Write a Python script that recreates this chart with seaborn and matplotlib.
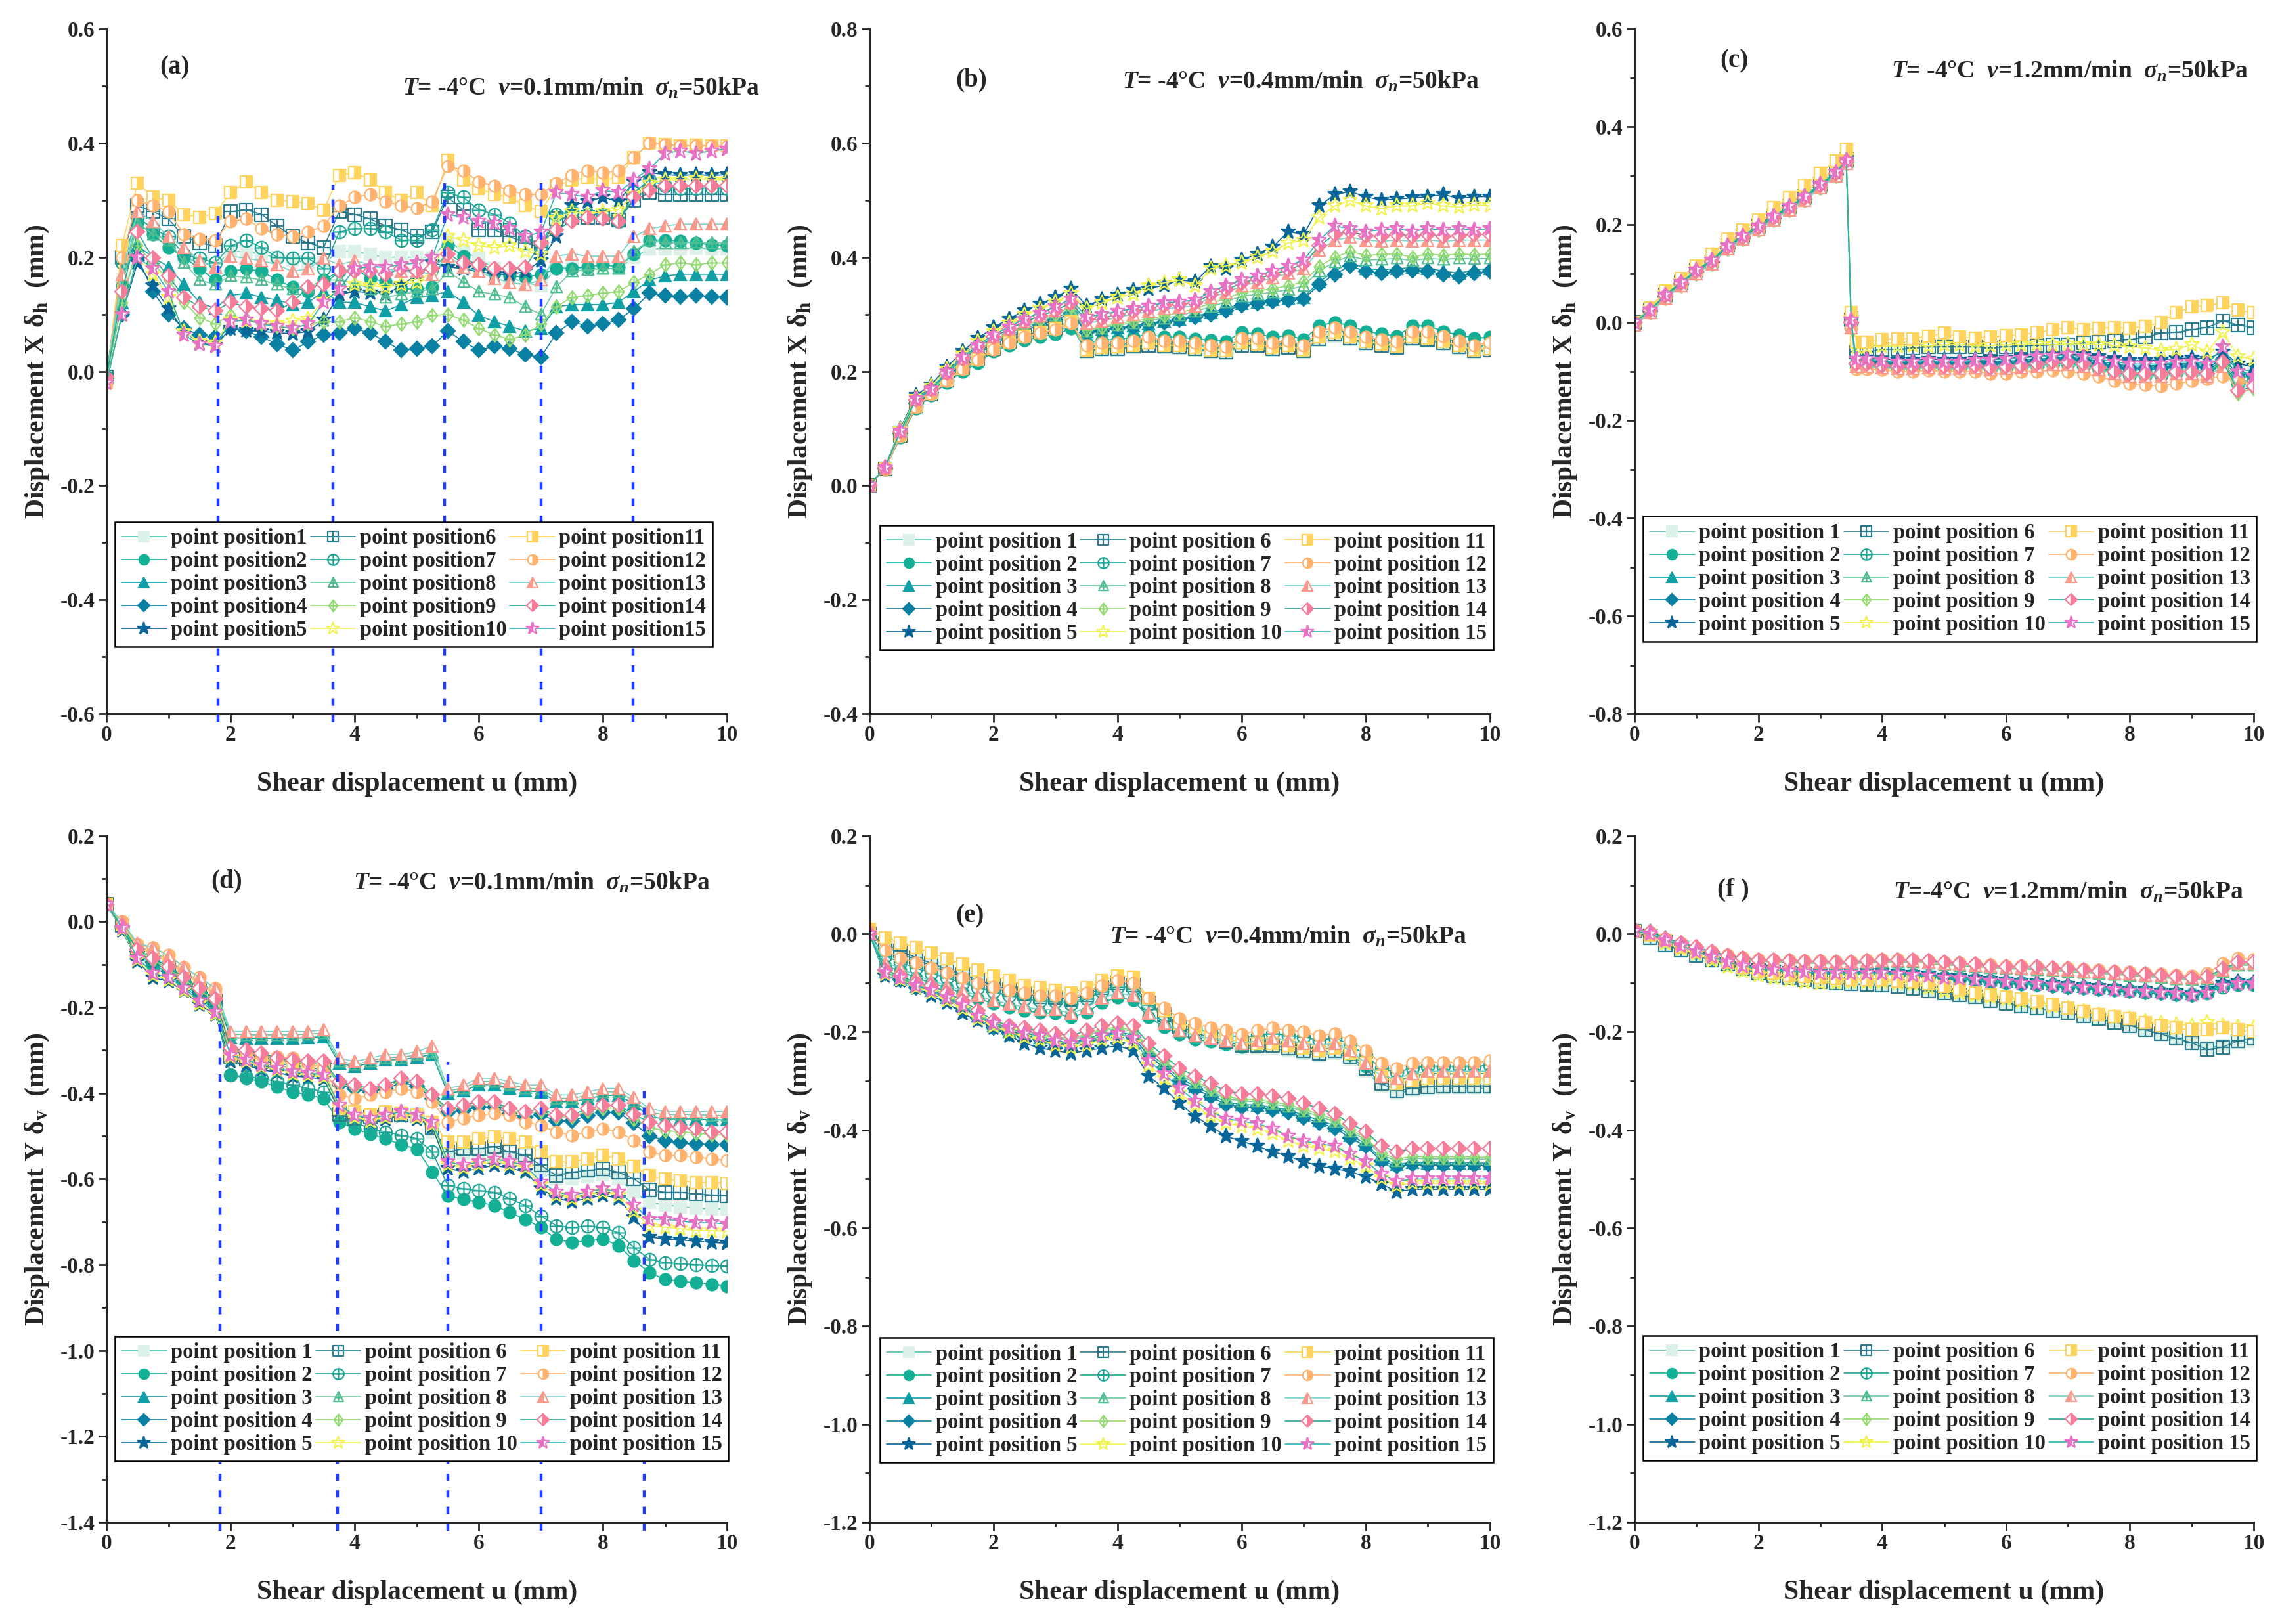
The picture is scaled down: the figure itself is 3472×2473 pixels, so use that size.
import matplotlib
matplotlib.use("Agg")
import matplotlib.pyplot as plt
from matplotlib.path import Path
from matplotlib.ticker import MultipleLocator
import seaborn as sns

# shear displacement sampling (mm)
U = [0, 0.25, 0.5, 0.75, 1, 1.25, 1.5, 1.75, 2, 2.25, 2.5, 2.75, 3, 3.25, 3.5, 3.75, 4, 4.25, 4.5, 4.75,
     5, 5.25, 5.5, 5.75, 6, 6.25, 6.5, 6.75, 7, 7.25, 7.5, 7.75, 8, 8.25, 8.5, 8.75, 9, 9.25, 9.5, 9.75, 10]
U_C = [0, 0.25, 0.5, 0.75, 1, 1.25, 1.5, 1.75, 2, 2.25, 2.5, 2.75, 3, 3.25, 3.42, 3.5, 3.58, 3.75, 4, 4.25,
       4.5, 4.75, 5, 5.25, 5.5, 5.75, 6, 6.25, 6.5, 6.75, 7, 7.25, 7.5, 7.75, 8, 8.25, 8.5, 8.75, 9, 9.25,
       9.5, 9.75, 10]

# (a) displacement X, v = 0.1 mm/min  (point position 1..15)
a_pp = [
    [-0.01, 0.16, 0.27, 0.25, 0.22, 0.20, 0.19, 0.185, 0.21, 0.21, 0.205, 0.20, 0.195, 0.19, 0.19, 0.21, 0.21, 0.205, 0.2, 0.2, 0.2, 0.2, 0.23, 0.21, 0.198, 0.18, 0.165, 0.155, 0.15, 0.18, 0.185, 0.18, 0.18, 0.18, 0.2, 0.215, 0.215, 0.215, 0.216, 0.215, 0.215],
    [-0.01, 0.15, 0.26, 0.24, 0.217, 0.2, 0.18, 0.16, 0.175, 0.18, 0.175, 0.16, 0.148, 0.14, 0.16, 0.175, 0.18, 0.163, 0.157, 0.145, 0.144, 0.148, 0.22, 0.202, 0.183, 0.172, 0.167, 0.165, 0.17, 0.18, 0.18, 0.183, 0.187, 0.183, 0.206, 0.23, 0.23, 0.228, 0.225, 0.222, 0.22],
    [-0.01, 0.12, 0.22, 0.2, 0.183, 0.152, 0.121, 0.11, 0.133, 0.137, 0.13, 0.125, 0.117, 0.121, 0.14, 0.121, 0.121, 0.113, 0.106, 0.117, 0.13, 0.133, 0.14, 0.121, 0.098, 0.087, 0.079, 0.071, 0.075, 0.113, 0.117, 0.117, 0.117, 0.121, 0.14, 0.16, 0.167, 0.17, 0.17, 0.17, 0.17],
    [-0.02, 0.1, 0.2, 0.14, 0.1, 0.075, 0.064, 0.06, 0.075, 0.071, 0.06, 0.048, 0.037, 0.052, 0.064, 0.067, 0.075, 0.067, 0.052, 0.037, 0.04, 0.044, 0.071, 0.052, 0.037, 0.044, 0.04, 0.029, 0.025, 0.067, 0.087, 0.079, 0.083, 0.09, 0.11, 0.137, 0.133, 0.131, 0.133, 0.131, 0.129],
    [-0.02, 0.1, 0.19, 0.15, 0.11, 0.07, 0.05, 0.045, 0.075, 0.072, 0.07, 0.068, 0.066, 0.07, 0.09, 0.135, 0.14, 0.138, 0.135, 0.15, 0.17, 0.19, 0.183, 0.18, 0.175, 0.17, 0.17, 0.175, 0.194, 0.236, 0.29, 0.298, 0.305, 0.298, 0.332, 0.348, 0.345, 0.343, 0.345, 0.343, 0.345],
    [-0.01, 0.2, 0.29, 0.28, 0.267, 0.236, 0.225, 0.22, 0.28, 0.283, 0.275, 0.255, 0.236, 0.225, 0.217, 0.28, 0.275, 0.267, 0.255, 0.248, 0.236, 0.244, 0.305, 0.283, 0.248, 0.248, 0.236, 0.225, 0.217, 0.267, 0.27, 0.27, 0.27, 0.265, 0.3, 0.313, 0.31, 0.31, 0.31, 0.31, 0.31],
    [-0.01, 0.19, 0.27, 0.25, 0.236, 0.205, 0.198, 0.19, 0.22, 0.23, 0.217, 0.2, 0.198, 0.198, 0.18, 0.244, 0.25, 0.25, 0.244, 0.23, 0.23, 0.248, 0.313, 0.305, 0.283, 0.275, 0.26, 0.236, 0.22, 0.275, 0.28, 0.275, 0.275, 0.263, 0.313, 0.336, 0.325, 0.32, 0.32, 0.322, 0.32],
    [-0.01, 0.15, 0.26, 0.24, 0.23, 0.19, 0.16, 0.152, 0.167, 0.165, 0.16, 0.152, 0.144, 0.148, 0.16, 0.16, 0.155, 0.145, 0.13, 0.135, 0.14, 0.144, 0.175, 0.157, 0.14, 0.135, 0.13, 0.113, 0.1, 0.148, 0.175, 0.178, 0.18, 0.18, 0.21, 0.23, 0.225, 0.225, 0.226, 0.225, 0.225],
    [-0.01, 0.12, 0.22, 0.19, 0.16, 0.121, 0.094, 0.083, 0.098, 0.092, 0.083, 0.079, 0.075, 0.083, 0.087, 0.087, 0.094, 0.087, 0.079, 0.083, 0.087, 0.098, 0.1, 0.09, 0.075, 0.064, 0.056, 0.064, 0.083, 0.113, 0.13, 0.133, 0.137, 0.14, 0.156, 0.17, 0.187, 0.19, 0.187, 0.19, 0.19],
    [-0.02, 0.1, 0.2, 0.17, 0.13, 0.07, 0.052, 0.05, 0.09, 0.088, 0.085, 0.083, 0.088, 0.092, 0.125, 0.144, 0.152, 0.15, 0.148, 0.152, 0.156, 0.175, 0.236, 0.23, 0.22, 0.217, 0.22, 0.21, 0.206, 0.267, 0.28, 0.275, 0.28, 0.283, 0.31, 0.33, 0.335, 0.335, 0.338, 0.336, 0.336],
    [-0.02, 0.22, 0.33, 0.305, 0.30, 0.275, 0.27, 0.277, 0.313, 0.332, 0.313, 0.30, 0.298, 0.294, 0.283, 0.344, 0.348, 0.336, 0.313, 0.30, 0.313, 0.29, 0.37, 0.336, 0.32, 0.31, 0.305, 0.29, 0.28, 0.325, 0.335, 0.34, 0.335, 0.34, 0.375, 0.40, 0.397, 0.395, 0.396, 0.395, 0.395],
    [-0.02, 0.2, 0.30, 0.29, 0.28, 0.24, 0.232, 0.23, 0.263, 0.267, 0.25, 0.24, 0.236, 0.244, 0.255, 0.29, 0.305, 0.31, 0.298, 0.29, 0.286, 0.298, 0.36, 0.352, 0.332, 0.325, 0.317, 0.31, 0.31, 0.33, 0.344, 0.352, 0.348, 0.352, 0.375, 0.40, 0.398, 0.395, 0.395, 0.395, 0.394],
    [-0.01, 0.17, 0.28, 0.263, 0.236, 0.217, 0.194, 0.183, 0.202, 0.198, 0.194, 0.187, 0.175, 0.18, 0.198, 0.187, 0.194, 0.187, 0.18, 0.175, 0.175, 0.17, 0.202, 0.183, 0.175, 0.163, 0.156, 0.152, 0.16, 0.202, 0.206, 0.202, 0.202, 0.202, 0.236, 0.25, 0.255, 0.258, 0.258, 0.258, 0.258],
    [-0.01, 0.14, 0.244, 0.198, 0.167, 0.13, 0.113, 0.106, 0.121, 0.113, 0.11, 0.106, 0.121, 0.148, 0.152, 0.175, 0.175, 0.175, 0.17, 0.18, 0.175, 0.18, 0.206, 0.19, 0.187, 0.18, 0.18, 0.183, 0.225, 0.248, 0.263, 0.27, 0.267, 0.263, 0.305, 0.317, 0.325, 0.325, 0.325, 0.325, 0.325],
    [-0.02, 0.1, 0.2, 0.18, 0.14, 0.064, 0.048, 0.044, 0.087, 0.09, 0.083, 0.079, 0.075, 0.083, 0.121, 0.144, 0.18, 0.183, 0.183, 0.187, 0.19, 0.2, 0.275, 0.27, 0.263, 0.26, 0.25, 0.236, 0.244, 0.313, 0.31, 0.305, 0.317, 0.313, 0.336, 0.355, 0.382, 0.386, 0.382, 0.386, 0.39],
]

# (b) displacement X, v = 0.4 mm/min
b_pp = [
    [0, 0.028, 0.086, 0.136, 0.159, 0.182, 0.202, 0.218, 0.237, 0.248, 0.258, 0.264, 0.27, 0.28, 0.234, 0.238, 0.238, 0.242, 0.244, 0.242, 0.241, 0.238, 0.234, 0.232, 0.244, 0.243, 0.238, 0.24, 0.234, 0.255, 0.262, 0.256, 0.248, 0.244, 0.24, 0.256, 0.254, 0.248, 0.241, 0.234, 0.236],
    [0, 0.028, 0.085, 0.135, 0.158, 0.18, 0.20, 0.215, 0.235, 0.245, 0.255, 0.26, 0.265, 0.275, 0.25, 0.255, 0.256, 0.26, 0.265, 0.26, 0.26, 0.257, 0.255, 0.253, 0.268, 0.266, 0.26, 0.263, 0.256, 0.28, 0.286, 0.28, 0.27, 0.266, 0.262, 0.28, 0.28, 0.27, 0.264, 0.258, 0.26],
    [0, 0.03, 0.092, 0.145, 0.164, 0.191, 0.214, 0.233, 0.25, 0.263, 0.275, 0.284, 0.293, 0.306, 0.27, 0.273, 0.277, 0.28, 0.284, 0.288, 0.292, 0.297, 0.303, 0.31, 0.319, 0.322, 0.326, 0.328, 0.33, 0.357, 0.376, 0.391, 0.38, 0.378, 0.38, 0.382, 0.38, 0.376, 0.372, 0.378, 0.38],
    [0, 0.03, 0.091, 0.144, 0.163, 0.19, 0.212, 0.231, 0.247, 0.26, 0.272, 0.281, 0.29, 0.302, 0.268, 0.271, 0.275, 0.278, 0.282, 0.286, 0.29, 0.295, 0.3, 0.307, 0.316, 0.319, 0.323, 0.325, 0.327, 0.352, 0.37, 0.385, 0.375, 0.372, 0.375, 0.377, 0.375, 0.37, 0.366, 0.372, 0.375],
    [0, 0.032, 0.10, 0.158, 0.177, 0.208, 0.235, 0.258, 0.277, 0.292, 0.307, 0.318, 0.33, 0.345, 0.315, 0.326, 0.334, 0.342, 0.345, 0.351, 0.36, 0.357, 0.384, 0.38, 0.395, 0.406, 0.418, 0.445, 0.44, 0.49, 0.51, 0.515, 0.506, 0.50, 0.502, 0.504, 0.506, 0.51, 0.503, 0.506, 0.506],
    [0, 0.029, 0.088, 0.14, 0.16, 0.185, 0.206, 0.223, 0.24, 0.252, 0.263, 0.27, 0.277, 0.288, 0.236, 0.24, 0.24, 0.244, 0.245, 0.244, 0.243, 0.24, 0.236, 0.234, 0.246, 0.245, 0.24, 0.242, 0.236, 0.257, 0.265, 0.258, 0.25, 0.246, 0.242, 0.258, 0.256, 0.25, 0.243, 0.236, 0.238],
    [0, 0.029, 0.087, 0.139, 0.16, 0.184, 0.205, 0.222, 0.239, 0.25, 0.261, 0.268, 0.274, 0.285, 0.242, 0.247, 0.247, 0.25, 0.256, 0.25, 0.25, 0.247, 0.243, 0.24, 0.254, 0.254, 0.247, 0.25, 0.243, 0.266, 0.273, 0.266, 0.256, 0.252, 0.248, 0.266, 0.265, 0.258, 0.25, 0.243, 0.246],
    [0, 0.03, 0.092, 0.146, 0.165, 0.193, 0.216, 0.236, 0.252, 0.266, 0.278, 0.287, 0.297, 0.31, 0.271, 0.276, 0.281, 0.285, 0.289, 0.293, 0.298, 0.305, 0.313, 0.322, 0.332, 0.335, 0.339, 0.343, 0.35, 0.376, 0.392, 0.402, 0.395, 0.396, 0.398, 0.394, 0.398, 0.396, 0.398, 0.397, 0.398],
    [0, 0.03, 0.093, 0.147, 0.166, 0.194, 0.218, 0.238, 0.255, 0.268, 0.281, 0.29, 0.3, 0.313, 0.273, 0.278, 0.284, 0.288, 0.292, 0.297, 0.303, 0.31, 0.319, 0.328, 0.338, 0.341, 0.345, 0.35, 0.357, 0.384, 0.40, 0.41, 0.403, 0.405, 0.406, 0.40, 0.406, 0.403, 0.406, 0.404, 0.406],
    [0, 0.032, 0.098, 0.155, 0.174, 0.204, 0.23, 0.252, 0.27, 0.285, 0.30, 0.31, 0.322, 0.336, 0.31, 0.32, 0.33, 0.335, 0.35, 0.355, 0.36, 0.35, 0.38, 0.385, 0.39, 0.40, 0.41, 0.425, 0.43, 0.47, 0.49, 0.50, 0.49, 0.485, 0.49, 0.49, 0.495, 0.49, 0.488, 0.492, 0.49],
    [0, 0.029, 0.088, 0.138, 0.161, 0.184, 0.205, 0.221, 0.24, 0.251, 0.262, 0.268, 0.275, 0.287, 0.238, 0.242, 0.243, 0.246, 0.25, 0.246, 0.245, 0.242, 0.238, 0.236, 0.25, 0.248, 0.242, 0.245, 0.238, 0.26, 0.268, 0.26, 0.252, 0.248, 0.244, 0.26, 0.258, 0.252, 0.245, 0.238, 0.24],
    [0, 0.028, 0.087, 0.137, 0.16, 0.183, 0.204, 0.22, 0.239, 0.25, 0.26, 0.267, 0.273, 0.285, 0.245, 0.25, 0.25, 0.254, 0.26, 0.254, 0.254, 0.25, 0.246, 0.243, 0.258, 0.258, 0.25, 0.254, 0.246, 0.27, 0.277, 0.27, 0.26, 0.256, 0.252, 0.27, 0.27, 0.262, 0.254, 0.246, 0.25],
    [0, 0.031, 0.095, 0.15, 0.168, 0.197, 0.222, 0.243, 0.26, 0.274, 0.287, 0.297, 0.307, 0.32, 0.285, 0.288, 0.295, 0.30, 0.305, 0.31, 0.312, 0.315, 0.33, 0.338, 0.35, 0.356, 0.364, 0.372, 0.38, 0.412, 0.43, 0.435, 0.43, 0.428, 0.43, 0.428, 0.43, 0.428, 0.43, 0.43, 0.43],
    [0, 0.031, 0.095, 0.15, 0.168, 0.197, 0.222, 0.243, 0.26, 0.274, 0.287, 0.297, 0.307, 0.32, 0.29, 0.293, 0.30, 0.305, 0.31, 0.316, 0.318, 0.32, 0.335, 0.343, 0.355, 0.362, 0.37, 0.378, 0.388, 0.42, 0.44, 0.445, 0.438, 0.436, 0.44, 0.437, 0.44, 0.436, 0.438, 0.44, 0.44],
    [0, 0.031, 0.096, 0.152, 0.17, 0.2, 0.225, 0.246, 0.264, 0.278, 0.292, 0.302, 0.313, 0.327, 0.295, 0.30, 0.305, 0.31, 0.315, 0.32, 0.322, 0.325, 0.34, 0.35, 0.36, 0.368, 0.376, 0.385, 0.395, 0.43, 0.455, 0.45, 0.445, 0.448, 0.45, 0.445, 0.45, 0.448, 0.45, 0.448, 0.45],
]

# (c) displacement X, v = 1.2 mm/min (sampled on U_C)
c_pp = [
    [0, 0.025, 0.055, 0.08, 0.105, 0.125, 0.155, 0.175, 0.195, 0.215, 0.235, 0.255, 0.28, 0.305, 0.33, 0.0, -0.08, -0.08, -0.082, -0.084, -0.083, -0.082, -0.083, -0.084, -0.082, -0.083, -0.082, -0.08, -0.078, -0.075, -0.074, -0.077, -0.082, -0.088, -0.092, -0.092, -0.09, -0.088, -0.086, -0.09, -0.075, -0.1, -0.105],
    [-0.005, 0.02, 0.05, 0.075, 0.1, 0.12, 0.15, 0.17, 0.19, 0.21, 0.23, 0.25, 0.275, 0.3, 0.325, -0.01, -0.09, -0.083, -0.085, -0.087, -0.087, -0.085, -0.087, -0.087, -0.085, -0.087, -0.086, -0.084, -0.082, -0.078, -0.077, -0.08, -0.086, -0.093, -0.097, -0.097, -0.096, -0.093, -0.09, -0.095, -0.08, -0.11, -0.112],
    [0, 0.025, 0.055, 0.08, 0.105, 0.125, 0.155, 0.175, 0.195, 0.215, 0.235, 0.255, 0.28, 0.305, 0.33, 0.0, -0.08, -0.078, -0.08, -0.082, -0.082, -0.08, -0.082, -0.082, -0.08, -0.08, -0.079, -0.077, -0.075, -0.072, -0.071, -0.074, -0.079, -0.085, -0.089, -0.089, -0.087, -0.085, -0.083, -0.087, -0.07, -0.095, -0.1],
    [0, 0.023, 0.053, 0.078, 0.103, 0.123, 0.152, 0.172, 0.192, 0.212, 0.232, 0.252, 0.277, 0.302, 0.327, 0.0, -0.085, -0.08, -0.083, -0.085, -0.085, -0.083, -0.085, -0.085, -0.083, -0.084, -0.083, -0.081, -0.079, -0.075, -0.074, -0.078, -0.084, -0.09, -0.094, -0.094, -0.093, -0.09, -0.088, -0.092, -0.075, -0.105, -0.108],
    [0, 0.026, 0.057, 0.082, 0.107, 0.128, 0.157, 0.177, 0.197, 0.217, 0.237, 0.258, 0.283, 0.307, 0.332, 0.005, -0.075, -0.072, -0.075, -0.076, -0.077, -0.075, -0.076, -0.077, -0.075, -0.073, -0.072, -0.07, -0.068, -0.066, -0.064, -0.066, -0.07, -0.074, -0.078, -0.078, -0.076, -0.074, -0.072, -0.075, -0.06, -0.085, -0.09],
    [0, 0.026, 0.057, 0.082, 0.107, 0.128, 0.158, 0.178, 0.198, 0.218, 0.238, 0.258, 0.283, 0.308, 0.333, 0.005, -0.06, -0.06, -0.055, -0.055, -0.052, -0.05, -0.05, -0.05, -0.05, -0.052, -0.05, -0.048, -0.047, -0.046, -0.045, -0.042, -0.04, -0.037, -0.035, -0.03, -0.022, -0.02, -0.015, -0.01, 0.003, -0.005, -0.01],
    [0, 0.025, 0.055, 0.08, 0.105, 0.125, 0.155, 0.175, 0.195, 0.215, 0.235, 0.255, 0.28, 0.305, 0.33, 0.0, -0.085, -0.088, -0.09, -0.092, -0.092, -0.09, -0.092, -0.092, -0.09, -0.094, -0.092, -0.09, -0.088, -0.084, -0.084, -0.088, -0.094, -0.102, -0.107, -0.107, -0.107, -0.102, -0.1, -0.106, -0.085, -0.125, -0.12],
    [0, 0.023, 0.053, 0.078, 0.103, 0.123, 0.152, 0.172, 0.192, 0.212, 0.232, 0.252, 0.277, 0.302, 0.327, 0.0, -0.085, -0.085, -0.087, -0.089, -0.089, -0.087, -0.089, -0.089, -0.087, -0.09, -0.088, -0.086, -0.084, -0.08, -0.08, -0.084, -0.09, -0.097, -0.102, -0.102, -0.101, -0.097, -0.095, -0.1, -0.082, -0.12, -0.118],
    [-0.005, 0.02, 0.05, 0.075, 0.1, 0.12, 0.15, 0.17, 0.19, 0.21, 0.23, 0.25, 0.275, 0.3, 0.325, -0.01, -0.09, -0.09, -0.093, -0.095, -0.095, -0.093, -0.095, -0.095, -0.093, -0.097, -0.095, -0.093, -0.09, -0.086, -0.086, -0.09, -0.097, -0.105, -0.11, -0.11, -0.11, -0.105, -0.104, -0.11, -0.09, -0.145, -0.135],
    [0, 0.028, 0.06, 0.085, 0.11, 0.132, 0.162, 0.182, 0.202, 0.224, 0.244, 0.265, 0.29, 0.315, 0.34, 0.01, -0.05, -0.05, -0.048, -0.048, -0.047, -0.048, -0.046, -0.045, -0.048, -0.047, -0.046, -0.045, -0.044, -0.046, -0.044, -0.045, -0.045, -0.047, -0.05, -0.052, -0.057, -0.055, -0.045, -0.06, -0.02, -0.07, -0.075],
    [0, 0.03, 0.065, 0.09, 0.115, 0.14, 0.17, 0.19, 0.21, 0.235, 0.255, 0.28, 0.305, 0.33, 0.355, 0.02, -0.04, -0.04, -0.035, -0.033, -0.033, -0.028, -0.022, -0.03, -0.032, -0.03, -0.027, -0.025, -0.02, -0.015, -0.01, -0.015, -0.012, -0.01, -0.012, -0.008, 0.0, 0.02, 0.032, 0.035, 0.04, 0.025, 0.02],
    [-0.005, 0.02, 0.05, 0.075, 0.1, 0.12, 0.15, 0.17, 0.19, 0.21, 0.23, 0.25, 0.275, 0.3, 0.325, -0.01, -0.095, -0.095, -0.097, -0.1, -0.1, -0.098, -0.1, -0.1, -0.1, -0.105, -0.105, -0.1, -0.1, -0.098, -0.1, -0.105, -0.11, -0.12, -0.125, -0.128, -0.13, -0.125, -0.12, -0.115, -0.11, -0.12, -0.125],
    [-0.005, 0.02, 0.05, 0.075, 0.1, 0.12, 0.15, 0.17, 0.19, 0.21, 0.23, 0.25, 0.275, 0.3, 0.325, -0.01, -0.09, -0.09, -0.092, -0.094, -0.094, -0.092, -0.094, -0.094, -0.092, -0.096, -0.094, -0.092, -0.09, -0.086, -0.086, -0.09, -0.097, -0.105, -0.11, -0.11, -0.11, -0.105, -0.105, -0.11, -0.09, -0.13, -0.125],
    [0, 0.025, 0.055, 0.08, 0.105, 0.125, 0.155, 0.175, 0.195, 0.215, 0.235, 0.255, 0.28, 0.305, 0.33, 0.0, -0.085, -0.085, -0.088, -0.09, -0.09, -0.088, -0.09, -0.09, -0.088, -0.092, -0.09, -0.088, -0.085, -0.08, -0.08, -0.085, -0.092, -0.1, -0.105, -0.105, -0.105, -0.1, -0.1, -0.105, -0.08, -0.14, -0.13],
    [0, 0.026, 0.057, 0.082, 0.107, 0.128, 0.157, 0.177, 0.197, 0.217, 0.237, 0.258, 0.283, 0.307, 0.332, 0.005, -0.075, -0.075, -0.078, -0.08, -0.08, -0.078, -0.08, -0.08, -0.078, -0.076, -0.075, -0.072, -0.07, -0.068, -0.066, -0.07, -0.075, -0.08, -0.085, -0.085, -0.085, -0.082, -0.08, -0.085, -0.05, -0.1, -0.11],
]

# (d) displacement Y, v = 0.1 mm/min
d_pp = [
    [0.04, -0.01, -0.075, -0.1, -0.12, -0.145, -0.17, -0.195, -0.32, -0.325, -0.33, -0.335, -0.34, -0.345, -0.35, -0.44, -0.45, -0.46, -0.455, -0.45, -0.455, -0.49, -0.54, -0.54, -0.545, -0.545, -0.55, -0.555, -0.58, -0.6, -0.6, -0.595, -0.59, -0.6, -0.63, -0.655, -0.66, -0.665, -0.668, -0.67, -0.67],
    [0.04, -0.012, -0.08, -0.105, -0.125, -0.15, -0.18, -0.205, -0.357, -0.365, -0.373, -0.385, -0.397, -0.404, -0.412, -0.467, -0.483, -0.495, -0.506, -0.52, -0.53, -0.584, -0.639, -0.647, -0.654, -0.662, -0.678, -0.694, -0.713, -0.74, -0.748, -0.744, -0.74, -0.755, -0.79, -0.818, -0.834, -0.838, -0.842, -0.846, -0.85],
    [0.04, -0.005, -0.06, -0.075, -0.095, -0.12, -0.145, -0.17, -0.27, -0.272, -0.272, -0.272, -0.272, -0.27, -0.268, -0.33, -0.338, -0.33, -0.322, -0.322, -0.316, -0.31, -0.40, -0.395, -0.38, -0.38, -0.388, -0.395, -0.397, -0.42, -0.42, -0.413, -0.405, -0.405, -0.425, -0.455, -0.46, -0.46, -0.46, -0.462, -0.462],
    [0.04, -0.012, -0.07, -0.095, -0.115, -0.14, -0.165, -0.19, -0.3, -0.305, -0.312, -0.322, -0.327, -0.33, -0.33, -0.38, -0.39, -0.397, -0.39, -0.375, -0.383, -0.412, -0.445, -0.44, -0.432, -0.432, -0.448, -0.456, -0.45, -0.465, -0.465, -0.452, -0.445, -0.445, -0.47, -0.5, -0.51, -0.515, -0.518, -0.52, -0.52],
    [0.04, -0.02, -0.092, -0.131, -0.139, -0.162, -0.193, -0.217, -0.325, -0.335, -0.345, -0.352, -0.36, -0.363, -0.367, -0.44, -0.46, -0.468, -0.46, -0.452, -0.46, -0.478, -0.575, -0.583, -0.575, -0.568, -0.575, -0.583, -0.622, -0.645, -0.653, -0.645, -0.638, -0.645, -0.69, -0.735, -0.74, -0.742, -0.745, -0.748, -0.75],
    [0.04, -0.008, -0.07, -0.09, -0.11, -0.135, -0.16, -0.185, -0.315, -0.32, -0.325, -0.33, -0.335, -0.34, -0.345, -0.45, -0.459, -0.455, -0.451, -0.451, -0.451, -0.48, -0.537, -0.529, -0.529, -0.525, -0.537, -0.545, -0.568, -0.592, -0.584, -0.58, -0.576, -0.584, -0.6, -0.625, -0.631, -0.631, -0.635, -0.637, -0.639],
    [0.04, -0.01, -0.075, -0.1, -0.12, -0.145, -0.175, -0.2, -0.357, -0.362, -0.365, -0.373, -0.381, -0.389, -0.397, -0.436, -0.467, -0.483, -0.49, -0.498, -0.506, -0.537, -0.615, -0.623, -0.627, -0.631, -0.646, -0.662, -0.686, -0.709, -0.713, -0.71, -0.713, -0.725, -0.76, -0.787, -0.795, -0.797, -0.8, -0.802, -0.803],
    [0.04, -0.003, -0.057, -0.07, -0.09, -0.115, -0.14, -0.165, -0.262, -0.264, -0.264, -0.264, -0.264, -0.262, -0.26, -0.325, -0.333, -0.325, -0.317, -0.317, -0.31, -0.305, -0.395, -0.388, -0.372, -0.373, -0.38, -0.388, -0.39, -0.412, -0.412, -0.405, -0.397, -0.397, -0.418, -0.445, -0.45, -0.45, -0.45, -0.452, -0.452],
    [0.04, -0.01, -0.068, -0.09, -0.11, -0.135, -0.16, -0.185, -0.3, -0.305, -0.312, -0.322, -0.327, -0.33, -0.33, -0.378, -0.386, -0.392, -0.386, -0.37, -0.378, -0.408, -0.44, -0.432, -0.425, -0.425, -0.44, -0.448, -0.442, -0.455, -0.455, -0.442, -0.435, -0.435, -0.46, -0.48, -0.487, -0.49, -0.493, -0.497, -0.497],
    [0.04, -0.018, -0.088, -0.125, -0.135, -0.16, -0.19, -0.215, -0.315, -0.326, -0.338, -0.346, -0.355, -0.358, -0.362, -0.432, -0.456, -0.464, -0.456, -0.448, -0.456, -0.472, -0.566, -0.574, -0.566, -0.559, -0.566, -0.574, -0.613, -0.637, -0.645, -0.637, -0.63, -0.637, -0.675, -0.71, -0.712, -0.716, -0.72, -0.72, -0.722],
    [0.04, -0.005, -0.06, -0.075, -0.095, -0.12, -0.145, -0.17, -0.31, -0.315, -0.32, -0.326, -0.33, -0.335, -0.34, -0.436, -0.443, -0.451, -0.443, -0.447, -0.451, -0.467, -0.514, -0.514, -0.506, -0.502, -0.506, -0.514, -0.537, -0.56, -0.56, -0.553, -0.545, -0.553, -0.57, -0.592, -0.6, -0.604, -0.608, -0.608, -0.61],
    [0.04, 0.0, -0.053, -0.06, -0.077, -0.107, -0.13, -0.155, -0.3, -0.305, -0.31, -0.315, -0.318, -0.33, -0.342, -0.404, -0.412, -0.404, -0.397, -0.389, -0.397, -0.42, -0.467, -0.459, -0.451, -0.447, -0.451, -0.467, -0.475, -0.49, -0.498, -0.49, -0.483, -0.49, -0.51, -0.537, -0.545, -0.545, -0.549, -0.553, -0.557],
    [0.04, 0.0, -0.05, -0.06, -0.08, -0.105, -0.13, -0.155, -0.256, -0.256, -0.256, -0.256, -0.256, -0.256, -0.252, -0.318, -0.326, -0.318, -0.31, -0.31, -0.303, -0.29, -0.389, -0.381, -0.365, -0.365, -0.373, -0.381, -0.381, -0.404, -0.404, -0.397, -0.389, -0.389, -0.41, -0.436, -0.443, -0.443, -0.443, -0.443, -0.443],
    [0.04, -0.01, -0.065, -0.085, -0.105, -0.13, -0.155, -0.18, -0.295, -0.3, -0.307, -0.318, -0.322, -0.326, -0.326, -0.373, -0.381, -0.389, -0.381, -0.365, -0.373, -0.404, -0.436, -0.428, -0.42, -0.42, -0.436, -0.443, -0.436, -0.451, -0.451, -0.436, -0.428, -0.428, -0.45, -0.467, -0.475, -0.48, -0.483, -0.49, -0.49],
    [0.04, -0.015, -0.085, -0.12, -0.13, -0.155, -0.185, -0.21, -0.311, -0.322, -0.334, -0.342, -0.35, -0.353, -0.357, -0.428, -0.451, -0.459, -0.451, -0.443, -0.451, -0.467, -0.56, -0.568, -0.56, -0.553, -0.56, -0.568, -0.607, -0.63, -0.638, -0.63, -0.623, -0.63, -0.66, -0.694, -0.694, -0.698, -0.702, -0.702, -0.705],
]

# (e) displacement Y, v = 0.4 mm/min
e_pp = [
    [0.0, -0.025, -0.04, -0.053, -0.065, -0.077, -0.088, -0.099, -0.11, -0.119, -0.127, -0.133, -0.135, -0.139, -0.13, -0.115, -0.105, -0.109, -0.145, -0.17, -0.195, -0.205, -0.218, -0.225, -0.233, -0.233, -0.233, -0.238, -0.243, -0.248, -0.243, -0.255, -0.28, -0.31, -0.325, -0.32, -0.317, -0.315, -0.315, -0.315, -0.315],
    [0.0, -0.065, -0.075, -0.09, -0.1, -0.11, -0.12, -0.132, -0.142, -0.15, -0.156, -0.161, -0.162, -0.17, -0.16, -0.14, -0.13, -0.135, -0.17, -0.19, -0.205, -0.215, -0.22, -0.225, -0.23, -0.226, -0.222, -0.226, -0.23, -0.236, -0.232, -0.246, -0.27, -0.295, -0.3, -0.29, -0.285, -0.285, -0.286, -0.285, -0.285],
    [0.0, -0.078, -0.092, -0.107, -0.115, -0.13, -0.146, -0.167, -0.188, -0.199, -0.205, -0.211, -0.218, -0.223, -0.213, -0.205, -0.2, -0.206, -0.242, -0.268, -0.294, -0.311, -0.327, -0.343, -0.348, -0.349, -0.354, -0.359, -0.37, -0.38, -0.391, -0.411, -0.428, -0.459, -0.47, -0.466, -0.467, -0.467, -0.467, -0.467, -0.468],
    [0.0, -0.08, -0.094, -0.11, -0.118, -0.133, -0.15, -0.171, -0.192, -0.203, -0.209, -0.215, -0.222, -0.228, -0.218, -0.21, -0.205, -0.211, -0.248, -0.273, -0.3, -0.316, -0.332, -0.348, -0.353, -0.354, -0.359, -0.364, -0.375, -0.385, -0.396, -0.416, -0.433, -0.463, -0.474, -0.47, -0.472, -0.472, -0.472, -0.472, -0.473],
    [0.0, -0.085, -0.095, -0.11, -0.126, -0.141, -0.162, -0.177, -0.192, -0.208, -0.223, -0.233, -0.238, -0.244, -0.238, -0.233, -0.228, -0.238, -0.29, -0.315, -0.346, -0.372, -0.392, -0.413, -0.423, -0.433, -0.444, -0.454, -0.464, -0.474, -0.479, -0.485, -0.495, -0.51, -0.526, -0.521, -0.521, -0.521, -0.521, -0.521, -0.521],
    [0.0, -0.02, -0.035, -0.048, -0.06, -0.072, -0.083, -0.094, -0.105, -0.114, -0.122, -0.128, -0.13, -0.134, -0.125, -0.11, -0.1, -0.104, -0.14, -0.165, -0.19, -0.2, -0.213, -0.22, -0.228, -0.228, -0.228, -0.233, -0.238, -0.243, -0.238, -0.25, -0.275, -0.305, -0.32, -0.315, -0.312, -0.31, -0.31, -0.31, -0.31],
    [0.0, -0.045, -0.058, -0.07, -0.08, -0.09, -0.1, -0.11, -0.118, -0.126, -0.132, -0.137, -0.138, -0.143, -0.133, -0.118, -0.108, -0.112, -0.145, -0.165, -0.183, -0.193, -0.2, -0.205, -0.212, -0.207, -0.203, -0.207, -0.21, -0.217, -0.212, -0.226, -0.248, -0.275, -0.283, -0.273, -0.27, -0.27, -0.27, -0.27, -0.268],
    [0.0, -0.077, -0.09, -0.105, -0.112, -0.127, -0.143, -0.163, -0.184, -0.195, -0.2, -0.205, -0.212, -0.217, -0.207, -0.198, -0.193, -0.199, -0.235, -0.262, -0.287, -0.304, -0.32, -0.336, -0.341, -0.342, -0.347, -0.352, -0.362, -0.372, -0.383, -0.403, -0.42, -0.451, -0.463, -0.458, -0.459, -0.459, -0.459, -0.459, -0.46],
    [0.0, -0.076, -0.088, -0.103, -0.11, -0.125, -0.141, -0.161, -0.182, -0.192, -0.198, -0.203, -0.209, -0.214, -0.204, -0.195, -0.19, -0.196, -0.232, -0.258, -0.283, -0.3, -0.316, -0.332, -0.337, -0.338, -0.343, -0.348, -0.358, -0.368, -0.379, -0.399, -0.416, -0.447, -0.459, -0.454, -0.455, -0.455, -0.455, -0.455, -0.456],
    [0.0, -0.081, -0.092, -0.108, -0.119, -0.135, -0.152, -0.172, -0.188, -0.199, -0.21, -0.216, -0.226, -0.231, -0.226, -0.216, -0.212, -0.222, -0.268, -0.294, -0.325, -0.35, -0.371, -0.386, -0.392, -0.397, -0.407, -0.422, -0.432, -0.438, -0.443, -0.458, -0.474, -0.498, -0.513, -0.508, -0.509, -0.509, -0.509, -0.509, -0.51],
    [0.01, -0.008, -0.018, -0.028, -0.038, -0.051, -0.062, -0.074, -0.085, -0.095, -0.105, -0.11, -0.115, -0.12, -0.11, -0.095, -0.085, -0.088, -0.131, -0.156, -0.182, -0.192, -0.208, -0.213, -0.223, -0.223, -0.223, -0.228, -0.233, -0.238, -0.233, -0.244, -0.264, -0.29, -0.305, -0.3, -0.295, -0.295, -0.295, -0.295, -0.295],
    [0.005, -0.033, -0.049, -0.059, -0.069, -0.079, -0.09, -0.10, -0.108, -0.115, -0.12, -0.126, -0.126, -0.131, -0.12, -0.105, -0.095, -0.10, -0.131, -0.151, -0.172, -0.182, -0.192, -0.197, -0.205, -0.197, -0.192, -0.197, -0.2, -0.208, -0.203, -0.218, -0.238, -0.264, -0.274, -0.264, -0.262, -0.262, -0.262, -0.262, -0.259],
    [0.0, -0.059, -0.069, -0.085, -0.095, -0.105, -0.115, -0.126, -0.136, -0.143, -0.149, -0.154, -0.154, -0.162, -0.151, -0.131, -0.12, -0.126, -0.162, -0.182, -0.197, -0.208, -0.213, -0.218, -0.223, -0.218, -0.213, -0.218, -0.223, -0.228, -0.223, -0.238, -0.264, -0.29, -0.295, -0.285, -0.28, -0.28, -0.28, -0.28, -0.28],
    [0.0, -0.074, -0.085, -0.10, -0.105, -0.12, -0.136, -0.156, -0.177, -0.187, -0.192, -0.197, -0.203, -0.208, -0.197, -0.187, -0.182, -0.187, -0.223, -0.249, -0.274, -0.29, -0.305, -0.321, -0.326, -0.326, -0.331, -0.336, -0.346, -0.356, -0.367, -0.387, -0.403, -0.433, -0.444, -0.438, -0.438, -0.438, -0.438, -0.438, -0.438],
    [0.0, -0.079, -0.09, -0.105, -0.115, -0.13, -0.146, -0.167, -0.182, -0.192, -0.203, -0.208, -0.218, -0.223, -0.218, -0.208, -0.203, -0.213, -0.259, -0.285, -0.315, -0.341, -0.362, -0.377, -0.382, -0.387, -0.397, -0.413, -0.423, -0.428, -0.433, -0.449, -0.464, -0.49, -0.505, -0.5, -0.5, -0.5, -0.5, -0.5, -0.5],
]

# (f) displacement Y, v = 1.2 mm/min
f_pp = [
    [0.005, -0.009, -0.023, -0.034, -0.045, -0.054, -0.063, -0.072, -0.081, -0.086, -0.09, -0.094, -0.099, -0.101, -0.103, -0.104, -0.105, -0.108, -0.112, -0.117, -0.121, -0.126, -0.13, -0.137, -0.143, -0.148, -0.152, -0.157, -0.161, -0.168, -0.174, -0.181, -0.188, -0.197, -0.205, -0.214, -0.224, -0.232, -0.228, -0.222, -0.22],
    [0.006, 0.001, -0.012, -0.023, -0.035, -0.046, -0.057, -0.064, -0.07, -0.073, -0.075, -0.077, -0.079, -0.079, -0.079, -0.079, -0.079, -0.081, -0.083, -0.085, -0.088, -0.09, -0.092, -0.095, -0.097, -0.099, -0.101, -0.103, -0.106, -0.108, -0.11, -0.112, -0.115, -0.117, -0.119, -0.121, -0.123, -0.118, -0.104, -0.1, -0.1],
    [0.007, 0.002, -0.011, -0.022, -0.034, -0.045, -0.056, -0.063, -0.069, -0.072, -0.074, -0.076, -0.078, -0.078, -0.078, -0.078, -0.078, -0.08, -0.082, -0.084, -0.087, -0.089, -0.091, -0.094, -0.096, -0.098, -0.1, -0.102, -0.105, -0.107, -0.109, -0.111, -0.114, -0.116, -0.118, -0.12, -0.122, -0.116, -0.1, -0.096, -0.097],
    [0.006, 0.0, -0.014, -0.025, -0.037, -0.048, -0.059, -0.066, -0.072, -0.075, -0.077, -0.079, -0.081, -0.081, -0.081, -0.081, -0.081, -0.083, -0.085, -0.087, -0.09, -0.092, -0.094, -0.097, -0.099, -0.101, -0.103, -0.105, -0.108, -0.11, -0.112, -0.114, -0.117, -0.119, -0.121, -0.123, -0.125, -0.119, -0.103, -0.099, -0.1],
    [0.008, 0.004, -0.009, -0.02, -0.032, -0.043, -0.054, -0.061, -0.067, -0.07, -0.072, -0.074, -0.076, -0.076, -0.076, -0.076, -0.076, -0.078, -0.08, -0.082, -0.085, -0.087, -0.089, -0.092, -0.094, -0.096, -0.098, -0.1, -0.103, -0.105, -0.107, -0.109, -0.112, -0.114, -0.116, -0.118, -0.12, -0.112, -0.1, -0.098, -0.099],
    [0.005, -0.008, -0.022, -0.033, -0.044, -0.053, -0.062, -0.071, -0.08, -0.085, -0.089, -0.093, -0.098, -0.1, -0.102, -0.103, -0.104, -0.107, -0.111, -0.116, -0.12, -0.125, -0.129, -0.136, -0.142, -0.147, -0.151, -0.156, -0.16, -0.167, -0.173, -0.18, -0.187, -0.196, -0.204, -0.213, -0.222, -0.236, -0.231, -0.218, -0.213],
    [0.005, -0.001, -0.014, -0.025, -0.037, -0.048, -0.059, -0.066, -0.072, -0.075, -0.077, -0.079, -0.081, -0.081, -0.081, -0.081, -0.081, -0.083, -0.085, -0.087, -0.09, -0.092, -0.094, -0.097, -0.099, -0.101, -0.103, -0.105, -0.108, -0.11, -0.112, -0.114, -0.117, -0.119, -0.121, -0.123, -0.125, -0.121, -0.108, -0.103, -0.103],
    [0.009, 0.004, -0.011, -0.021, -0.03, -0.039, -0.047, -0.052, -0.056, -0.058, -0.059, -0.06, -0.06, -0.061, -0.061, -0.059, -0.058, -0.058, -0.058, -0.06, -0.063, -0.065, -0.067, -0.069, -0.071, -0.072, -0.073, -0.075, -0.077, -0.079, -0.081, -0.083, -0.085, -0.087, -0.089, -0.092, -0.094, -0.092, -0.077, -0.064, -0.064],
    [0.009, 0.004, -0.01, -0.019, -0.028, -0.037, -0.045, -0.05, -0.054, -0.056, -0.057, -0.058, -0.058, -0.059, -0.059, -0.057, -0.056, -0.056, -0.056, -0.058, -0.061, -0.063, -0.065, -0.067, -0.069, -0.07, -0.071, -0.073, -0.075, -0.077, -0.079, -0.081, -0.083, -0.085, -0.087, -0.09, -0.092, -0.09, -0.075, -0.062, -0.062],
    [0.005, -0.002, -0.018, -0.031, -0.04, -0.053, -0.067, -0.076, -0.084, -0.089, -0.093, -0.097, -0.1, -0.099, -0.098, -0.098, -0.098, -0.1, -0.102, -0.109, -0.116, -0.12, -0.124, -0.129, -0.133, -0.138, -0.142, -0.147, -0.151, -0.158, -0.164, -0.169, -0.173, -0.178, -0.182, -0.185, -0.187, -0.18, -0.187, -0.19, -0.191],
    [0.005, -0.002, -0.013, -0.027, -0.036, -0.047, -0.058, -0.068, -0.076, -0.08, -0.085, -0.087, -0.089, -0.091, -0.093, -0.093, -0.093, -0.096, -0.098, -0.102, -0.107, -0.113, -0.12, -0.125, -0.129, -0.133, -0.138, -0.145, -0.151, -0.158, -0.164, -0.169, -0.173, -0.18, -0.187, -0.192, -0.196, -0.196, -0.191, -0.196, -0.2],
    [0.008, 0.003, -0.01, -0.019, -0.028, -0.036, -0.043, -0.048, -0.052, -0.053, -0.054, -0.055, -0.055, -0.056, -0.056, -0.054, -0.052, -0.052, -0.053, -0.055, -0.057, -0.059, -0.061, -0.063, -0.065, -0.066, -0.067, -0.069, -0.07, -0.072, -0.074, -0.076, -0.078, -0.08, -0.082, -0.084, -0.085, -0.08, -0.06, -0.05, -0.052],
    [0.008, 0.003, -0.01, -0.02, -0.029, -0.038, -0.046, -0.05, -0.054, -0.055, -0.056, -0.057, -0.057, -0.058, -0.058, -0.056, -0.055, -0.055, -0.055, -0.057, -0.06, -0.062, -0.064, -0.066, -0.068, -0.069, -0.07, -0.072, -0.074, -0.076, -0.078, -0.08, -0.082, -0.084, -0.086, -0.089, -0.09, -0.088, -0.073, -0.06, -0.06],
    [0.009, 0.004, -0.009, -0.018, -0.027, -0.036, -0.044, -0.049, -0.053, -0.054, -0.055, -0.056, -0.056, -0.057, -0.057, -0.055, -0.053, -0.053, -0.053, -0.055, -0.058, -0.06, -0.062, -0.065, -0.067, -0.067, -0.067, -0.069, -0.071, -0.074, -0.076, -0.078, -0.08, -0.082, -0.084, -0.087, -0.089, -0.087, -0.071, -0.058, -0.058],
    [0.005, 0.0, -0.013, -0.024, -0.036, -0.047, -0.058, -0.065, -0.071, -0.074, -0.076, -0.078, -0.08, -0.08, -0.08, -0.08, -0.08, -0.082, -0.084, -0.086, -0.089, -0.091, -0.093, -0.096, -0.098, -0.1, -0.102, -0.104, -0.107, -0.109, -0.111, -0.113, -0.116, -0.118, -0.12, -0.122, -0.124, -0.12, -0.107, -0.102, -0.102],
]

# blue dashed markers of the stick-slip steps
a_step_x = [1.8, 3.65, 5.45, 7.0, 8.48]
a_step_top = [0.28, 0.327, 0.33, 0.33, 0.345]
d_step_x = [1.83, 3.72, 5.5, 7.0, 8.66]
d_step_top = [-0.233, -0.28, -0.327, -0.39, -0.377]


def crossed(shape):
    if shape == "s":
        outline = Path([(-1, -1), (1, -1), (1, 1), (-1, 1), (-1, -1)],
                       [Path.MOVETO, Path.LINETO, Path.LINETO, Path.LINETO, Path.CLOSEPOLY])
        cross = Path([(0, -1), (0, 1), (-1, 0), (1, 0)], [Path.MOVETO, Path.LINETO, Path.MOVETO, Path.LINETO])
    elif shape == "o":
        outline = Path.unit_circle()
        cross = Path([(0, -1), (0, 1), (-1, 0), (1, 0)], [Path.MOVETO, Path.LINETO, Path.MOVETO, Path.LINETO])
    elif shape == "^":
        outline = Path([(0, 1), (-0.9, -0.8), (0.9, -0.8), (0, 1)],
                       [Path.MOVETO, Path.LINETO, Path.LINETO, Path.CLOSEPOLY])
        cross = Path([(0, 1), (0, -0.8), (-0.5, -0.1), (0.5, -0.1)], [Path.MOVETO, Path.LINETO, Path.MOVETO, Path.LINETO])
    else:
        outline = Path([(0, 1), (0.75, 0), (0, -1), (-0.75, 0), (0, 1)],
                       [Path.MOVETO, Path.LINETO, Path.LINETO, Path.LINETO, Path.CLOSEPOLY])
        cross = Path([(0, 1), (0, -1), (-0.75, 0), (0.75, 0)], [Path.MOVETO, Path.LINETO, Path.MOVETO, Path.LINETO])
    return Path.make_compound_path(outline, cross)


# colour, line colour, marker, fill, size for point positions 1..15
COLORS = ["#dcf1e8", "#13b096", "#119fa6", "#0a80a2", "#0a6598",
          "#2c7d8e", "#1ea596", "#4fbd8f", "#93da72", "#f2f250",
          "#ffd45e", "#ffb36e", "#f99a8c", "#f57d9a", "#e872c6"]
LINE_COLORS = ["#55c4ae", "#13b096", "#119fa6", "#0a80a2", "#0a6598",
               "#2c7d8e", "#1ea596", "#6cc9a0", "#93da72", "#f2f250",
               "#ffd45e", "#ffb36e", "#72d4c8", "#22a890", "#2ab3b3"]
MARKERS = ["s", "o", "^", "D", "*",
           crossed("s"), crossed("o"), crossed("^"), crossed("D"), "*",
           "s", "o", "^", "D", "*"]
FILLS = ["full"] * 5 + ["none"] * 5 + ["right", "right", "left", "right", "left"]
SIZES = [13, 13, 13, 11, 17, 14, 14, 14, 15, 17, 13, 13, 13, 11, 17]

sns.set_style("ticks")
plt.rcParams["font.family"] = ["Liberation Serif", "DejaVu Serif"]
plt.rcParams["font.weight"] = "bold"
plt.rcParams["axes.labelweight"] = "bold"
plt.rcParams["axes.unicode_minus"] = False
plt.rcParams["mathtext.fontset"] = "custom"
plt.rcParams["mathtext.rm"] = "Liberation Serif:bold"
plt.rcParams["mathtext.it"] = "Liberation Serif:italic:bold"
plt.rcParams["mathtext.bf"] = "Liberation Serif:bold"

fig = plt.figure(figsize=(34.72, 24.73), dpi=100)
lefts = [0.0467, 0.3813, 0.7169]
ax_a = fig.add_axes([lefts[0], 0.5604, 0.2722, 0.4218])
ax_b = fig.add_axes([lefts[1], 0.5604, 0.2722, 0.4218])
ax_c = fig.add_axes([lefts[2], 0.5604, 0.2716, 0.4218])
ax_d = fig.add_axes([lefts[0], 0.0627, 0.2722, 0.4226])
ax_e = fig.add_axes([lefts[1], 0.0627, 0.2722, 0.4226])
ax_f = fig.add_axes([lefts[2], 0.0627, 0.2716, 0.4226])


def draw_panel(ax, x, series, label_fmt):
    for i, vals in enumerate(series):
        kw = dict(color=LINE_COLORS[i], linewidth=1.2, marker=MARKERS[i], markersize=SIZES[i],
                  markeredgecolor=COLORS[i], markeredgewidth=1.6, fillstyle=FILLS[i])
        if FILLS[i] == "none":
            kw["markerfacecolor"] = "none"
        else:
            kw["markerfacecolor"] = COLORS[i]
            kw["markerfacecoloralt"] = "white"
        sns.lineplot(x=x, y=vals, ax=ax, label=label_fmt.format(i + 1), **kw)


def style_axis(ax, ylo, yhi, ylabel, tag, tag_xy, cond, cond_xy, leg_xy):
    ax.set_xlim(0, 10)
    ax.set_ylim(ylo, yhi)
    ax.xaxis.set_major_locator(MultipleLocator(2))
    ax.xaxis.set_minor_locator(MultipleLocator(1))
    ax.yaxis.set_major_locator(MultipleLocator(0.2))
    ax.yaxis.set_minor_locator(MultipleLocator(0.1))
    sns.despine(ax=ax)
    for side in ["left", "bottom"]:
        ax.spines[side].set_linewidth(2.2)
    ax.tick_params(which="major", direction="out", length=9, width=2, labelsize=24)
    ax.tick_params(which="minor", direction="out", length=5, width=2)
    ax.set_xlabel("Shear displacement u (mm)", fontsize=30, labelpad=28)
    ax.set_ylabel(ylabel, fontsize=30, labelpad=10)
    ax.text(tag_xy[0], tag_xy[1], tag, transform=ax.transAxes, fontsize=28, ha="center", va="center")
    ax.text(cond_xy[0], cond_xy[1], cond, transform=ax.transAxes, fontsize=27, ha="center", va="center")
    leg = ax.legend(loc="lower left", bbox_to_anchor=leg_xy, ncol=3, fontsize=23.5, frameon=True,
                    fancybox=False, edgecolor="black", framealpha=1, handlelength=2.1,
                    handletextpad=0.2, columnspacing=0.15, labelspacing=0.12, borderpad=0.3,
                    borderaxespad=0, markerscale=0.85)
    leg.get_frame().set_linewidth(1.8)


YX = "Displacement X δ$_\\mathrm{h}$  (mm)"
YY = "Displacement Y δ$_\\mathrm{v}$  (mm)"

draw_panel(ax_a, U, a_pp, "point position{}")
ax_a.vlines(a_step_x, -0.615, a_step_top, colors="#1f3dff", linestyles=(0, (2.5, 3.2)), linewidth=3.2, clip_on=False)
style_axis(ax_a, -0.6, 0.6, YX, "(a)", (0.11, 0.944),
           "$T$= -4°C  $v$=0.1mm/min  $\\sigma_n$=50kPa", (0.764, 0.913), (0.014, 0.098))

draw_panel(ax_b, U, b_pp, "point position {}")
style_axis(ax_b, -0.4, 0.8, YX, "(b)", (0.164, 0.925),
           "$T$= -4°C  $v$=0.4mm/min  $\\sigma_n$=50kPa", (0.695, 0.923), (0.017, 0.093))

draw_panel(ax_c, U_C, c_pp, "point position {}")
style_axis(ax_c, -0.8, 0.6, YX, "(c)", (0.161, 0.953),
           "$T$= -4°C  $v$=1.2mm/min  $\\sigma_n$=50kPa", (0.703, 0.938), (0.014, 0.106))

draw_panel(ax_d, U, d_pp, "point position {}")
ax_d.vlines(d_step_x, -1.42, d_step_top, colors="#1f3dff", linestyles=(0, (2.5, 3.2)), linewidth=3.2, clip_on=False)
style_axis(ax_d, -1.4, 0.2, YY, "(d)", (0.194, 0.934),
           "$T$= -4°C  $v$=0.1mm/min  $\\sigma_n$=50kPa", (0.685, 0.932), (0.014, 0.089))

draw_panel(ax_e, U, e_pp, "point position {}")
style_axis(ax_e, -1.2, 0.2, YY, "(e)", (0.162, 0.883),
           "$T$= -4°C  $v$=0.4mm/min  $\\sigma_n$=50kPa", (0.675, 0.853), (0.017, 0.087))

draw_panel(ax_f, U, f_pp, "point position {}")
style_axis(ax_f, -1.2, 0.2, YY, "(f )", (0.159, 0.921),
           "$T$=-4°C  $v$=1.2mm/min  $\\sigma_n$=50kPa", (0.701, 0.918), (0.014, 0.09))

fig.savefig("out.png", dpi=100, facecolor="white")
